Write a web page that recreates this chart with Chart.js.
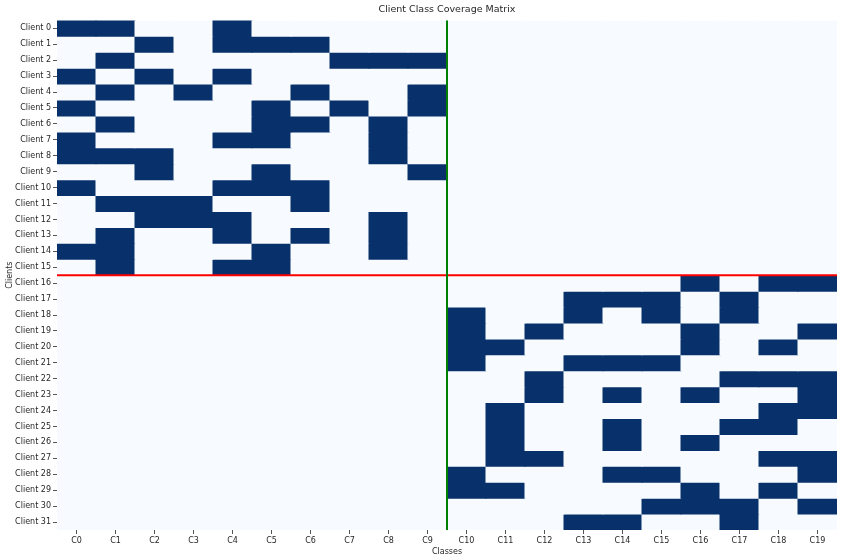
<!DOCTYPE html>
<html>
<head>
<meta charset="utf-8">
<script src="https://cdn.jsdelivr.net/npm/chart.js@4.4.1/dist/chart.umd.min.js"></script>
<style>
html,body{margin:0;padding:0;background:#fff;}
#wrap{width:843px;height:559px;position:relative;}
</style>
</head>
<body>
<div id="wrap"><canvas id="c" width="843" height="559"></canvas></div>
<script>
const classes = ["C0","C1","C2","C3","C4","C5","C6","C7","C8","C9","C10","C11","C12","C13","C14","C15","C16","C17","C18","C19"];
const clients = Array.from({length:32},(_,i)=>"Client "+i);
// covered class indices per client
const coverage = [
  [0,1,4],
  [2,4,5,6],
  [1,7,8,9],
  [0,2,4],
  [1,3,6,9],
  [0,5,7,9],
  [1,5,6,8],
  [0,4,5,8],
  [0,1,2,8],
  [2,5,9],
  [0,4,5,6],
  [1,2,3,6],
  [2,3,4,8],
  [1,4,6,8],
  [0,1,5,8],
  [1,4,5],
  [16,18,19],
  [13,14,15,17],
  [10,13,15,17],
  [10,12,16,19],
  [10,11,16,18],
  [10,13,14,15],
  [12,17,18,19],
  [12,14,16,19],
  [11,18,19],
  [11,14,17,18],
  [11,14,16],
  [11,12,18,19],
  [10,14,15,19],
  [10,11,16,18],
  [15,16,17,19],
  [13,14,17]
];
const classSplit = 10;  // boundary between C9 and C10
const clientSplit = 16; // boundary between Client 15 and Client 16

const DARK = "#08306b", LIGHT = "#f7fbff";

const datasets = clients.map((name, r) => ({
  label: name,
  data: classes.map(() => 1),
  backgroundColor: classes.map((_, c) => coverage[r].includes(c) ? DARK : LIGHT),
  borderWidth: 0,
  inflateAmount: 0.5,
  categoryPercentage: 1.0,
  barPercentage: 1.0,
  stack: "s"
}));

const linesPlugin = {
  id: "splitLines",
  afterDatasetsDraw(chart) {
    const {ctx, chartArea, scales} = chart;
    const x = scales.x, y = scales.y;
    const yr = y.getPixelForValue(clientSplit);
    const xg = (x.getPixelForValue(classSplit - 1) + x.getPixelForValue(classSplit)) / 2;
    ctx.save();
    ctx.lineWidth = 2;
    ctx.strokeStyle = "#ff0000";
    ctx.beginPath(); ctx.moveTo(chartArea.left, yr); ctx.lineTo(chartArea.right, yr); ctx.stroke();
    ctx.strokeStyle = "#008000";
    ctx.beginPath(); ctx.moveTo(xg, chartArea.top); ctx.lineTo(xg, chartArea.bottom); ctx.stroke();
    ctx.restore();
  }
};

const FONT = "'DejaVu Sans', sans-serif";
new Chart(document.getElementById("c"), {
  type: "bar",
  data: { labels: classes, datasets },
  plugins: [linesPlugin],
  options: {
    responsive: false,
    animation: false,
    devicePixelRatio: 1,
    layout: { padding: { left: 0, right: 6, top: 0, bottom: 0 } },
    plugins: {
      legend: { display: false },
      tooltip: { enabled: false },
      title: {
        display: true,
        fullSize: false,
        text: "Client Class Coverage Matrix",
        color: "#262626",
        font: { family: FONT, size: 9.5, weight: "normal" },
        padding: { top: 4, bottom: 5 }
      }
    },
    scales: {
      x: {
        stacked: true,
        offset: true,
        border: { display: false },
        grid: { display: true, drawOnChartArea: false, offset: false, tickLength: 4, color: "#555", tickColor: "#555" },
        ticks: { color: "#262626", font: { family: FONT, size: 8 }, padding: 2, maxRotation: 0, autoSkip: false },
        title: { display: true, text: "Classes", color: "#262626", font: { family: FONT, size: 8 }, padding: { top: 0, bottom: 2 } },
        afterFit(s) { s.height = 29; }
      },
      y: {
        type: "linear",
        stacked: true,
        min: 0, max: 32,
        reverse: true,
        border: { display: false },
        grid: { display: true, drawOnChartArea: false, tickLength: 4, color: "#555", tickColor: "#555" },
        afterBuildTicks(s) { s.ticks = clients.map((_, i) => ({ value: i + 0.5 })); },
        ticks: {
          color: "#262626", font: { family: FONT, size: 8 }, padding: 2, autoSkip: false,
          callback(v, i) { return clients[i]; }
        },
        title: { display: true, text: "Clients", color: "#262626", font: { family: FONT, size: 8 }, padding: { top: 5, bottom: 1 } },
        afterFit(s) { s.width = 57; }
      }
    }
  }
});
</script>
</body>
</html>
